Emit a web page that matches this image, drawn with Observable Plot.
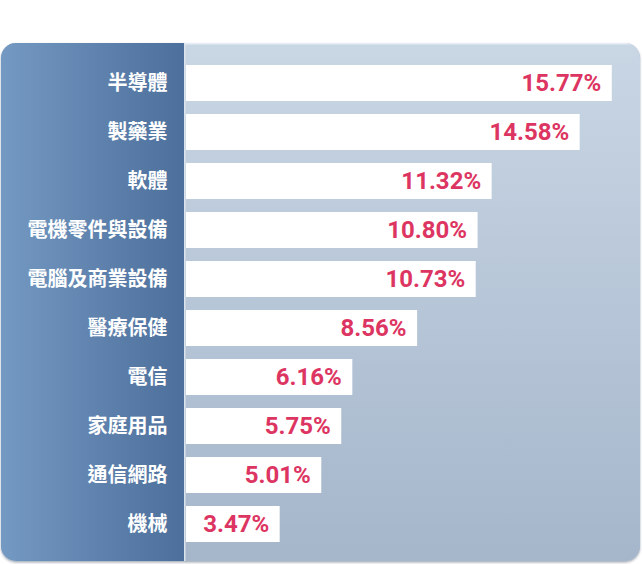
<!DOCTYPE html>
<html>
<head>
<meta charset="utf-8">
<script src="https://cdn.jsdelivr.net/npm/d3@7"></script>
<script src="https://cdn.jsdelivr.net/npm/@observablehq/plot@0.6"></script>
<style>
  body { margin: 0; background: #ffffff; }
  #chart { width: 642px; height: 564px; }
</style>
</head>
<body>
<div id="chart"></div>
<script>
const categories = ["半導體", "製藥業", "軟體", "電機零件與設備", "電腦及商業設備", "醫療保健", "電信", "家庭用品", "通信網路", "機械"];
const values = [15.77, 14.58, 11.32, 10.80, 10.73, 8.56, 6.16, 5.75, 5.01, 3.47];
const valueLabels = ["15.77%", "14.58%", "11.32%", "10.80%", "10.73%", "8.56%", "6.16%", "5.75%", "5.01%", "3.47%"];

const data = categories.map((c, i) => ({ name: c, value: values[i], label: valueLabels[i] }));

const font = "Inter, 'Noto Sans CJK TC', sans-serif";

const plot = Plot.plot({
  width: 642,
  height: 564,
  marginLeft: 186,
  marginRight: 24,
  marginTop: 57,
  marginBottom: 14,
  style: { fontFamily: font, background: "transparent" },
  x: { domain: [0, 16], axis: null },
  y: { domain: categories, paddingInner: 0.256, paddingOuter: 0.128, axis: null },
  marks: [
    Plot.barX(data, { x: "value", y: "name", fill: "#ffffff", inset: 0 }),
    Plot.text(data, {
      x: 0, y: "name", text: "name", textAnchor: "end", dx: -19,
      fill: "#ffffff", fontSize: 20, fontWeight: "bold",
      fontFamily: "'Noto Sans CJK TC', sans-serif"
    }),
    Plot.text(data, {
      x: "value", y: "name", text: "label", textAnchor: "end", dx: -11,
      fill: "#dd3562", fontSize: 24, fontWeight: 700, fontFamily: "Roboto, sans-serif"
    })
  ]
});

document.getElementById("chart").appendChild(plot);

// Panel background
const svg = d3.select(plot);
const defs = svg.insert("defs", ":first-child");
const gl = defs.append("linearGradient").attr("id", "gLeft").attr("x1", 0).attr("x2", 1).attr("y1", 0).attr("y2", 0);
gl.append("stop").attr("offset", "0%").attr("stop-color", "#7499c2");
gl.append("stop").attr("offset", "100%").attr("stop-color", "#4c6f9b");
const gr = defs.append("linearGradient").attr("id", "gRight").attr("x1", 0).attr("x2", 0).attr("y1", 0).attr("y2", 1);
gr.append("stop").attr("offset", "0%").attr("stop-color", "#c9d6e4");
gr.append("stop").attr("offset", "100%").attr("stop-color", "#a5b6cb");
defs.append("clipPath").attr("id", "panelClip")
  .append("rect").attr("x", 1).attr("y", 43).attr("width", 639).attr("height", 518).attr("rx", 15).attr("ry", 15);
const f = defs.append("filter").attr("id", "shadow").attr("x", "-5%").attr("y", "-5%").attr("width", "110%").attr("height", "110%");
f.append("feDropShadow").attr("dx", 0).attr("dy", 1.5).attr("stdDeviation", 1.2).attr("flood-color", "#33465e").attr("flood-opacity", 0.45);

const bg = svg.insert("g", "defs + *");
bg.append("rect").attr("x", 1).attr("y", 43).attr("width", 639).attr("height", 518).attr("rx", 15).attr("ry", 15)
  .attr("fill", "#a5b6cb").attr("filter", "url(#shadow)");
const inner = bg.append("g").attr("clip-path", "url(#panelClip)");
inner.append("rect").attr("x", 184).attr("y", 43).attr("width", 456).attr("height", 518).attr("fill", "url(#gRight)");
inner.append("rect").attr("x", 1).attr("y", 43).attr("width", 183).attr("height", 518).attr("fill", "url(#gLeft)");
inner.append("rect").attr("x", 184).attr("y", 43).attr("width", 1.5).attr("height", 518).attr("fill", "#dbe3ec");
inner.append("rect").attr("x", 185).attr("y", 43).attr("width", 455).attr("height", 1.5).attr("fill", "#e6edf4");
</script>
</body>
</html>
